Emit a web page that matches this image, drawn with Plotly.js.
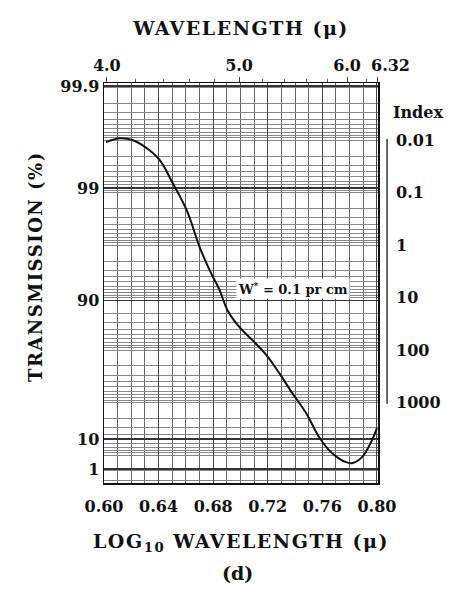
<!DOCTYPE html>
<html>
<head>
<meta charset="utf-8">
<script src="https://cdn.plot.ly/plotly-3.0.1.min.js"></script>
<style>
html,body{margin:0;padding:0;background:#fff;}
#chart{width:458px;height:590px;}
.xtitle, .x2title, .ytitle { letter-spacing: 1.5px; }
</style>
</head>
<body>
<div id="chart"></div>
<script>
// Curve: log10 wavelength vs. absorption index (right axis)
const logWavelength = [0.6015, 0.6117, 0.6212, 0.6314, 0.6409, 0.6504, 0.6606, 0.6701, 0.6774, 0.6847, 0.6905, 0.6993, 0.7088, 0.7190, 0.7285, 0.7380, 0.7482, 0.7577, 0.7672, 0.7774, 0.7818, 0.7891, 0.7964, 0.8000];
const absorptionIndex = [0.0109, 0.0092, 0.0100, 0.0142, 0.024, 0.066, 0.215, 1.09, 2.99, 7.2, 17.3, 36.5, 64.5, 124, 274, 659, 1585, 4540, 9160, 13600, 14200, 10900, 5180, 3060];

// Bottom axis ticks (log10 wavelength)
const bottomTicks = [0.60, 0.64, 0.68, 0.72, 0.76, 0.80];
const bottomLabels = ['0.60', '0.64', '0.68', '0.72', '0.76', '0.80'];

// Top axis ticks (wavelength, microns); the 6.32 label is set beside its tick
const topWavelengths = [4.0, 5.0, 6.0, 6.32];
const topLabels = ['4.0', '5.0', '6.0', ''];
const topEndLabel = '6.32';
const topMinorWavelengths = [4.2, 4.4, 4.6, 4.8, 5.2, 5.4, 5.6, 5.8, 6.2];

// Left axis: transmission labels and their position on the index scale
const transLabels = ['99.9', '99', '90', '10', '1'];
const transPositions = [0.00093, 0.082, 11.2, 4960, 18500];

// Right axis: index labels
const indexTicks = [0.01, 0.1, 1, 10, 100, 1000];
const indexLabels = ['0.01', '0.1', '1', '10', '100', '1000'];

const FONT = 'DejaVu Serif';
const yRange = [4.53, -3.09];
const xRange = [0.6, 0.8008];
const titleFont = {family: FONT, size: 19, weight: 'bold', color: '#111'};
const tickFont = {family: FONT, size: 16, weight: 'bold', color: '#111'};

const trace = {
  x: logWavelength,
  y: absorptionIndex,
  type: 'scatter',
  mode: 'lines',
  line: {color: '#111', width: 2, shape: 'spline', smoothing: 1},
  xaxis: 'x',
  yaxis: 'y',
  hoverinfo: 'skip'
};

const layout = {
  width: 458,
  height: 590,
  margin: {l: 104, r: 80, t: 83, b: 107},
  paper_bgcolor: '#fff',
  plot_bgcolor: '#fff',
  showlegend: false,
  font: {family: FONT, color: '#111', size: 15, weight: 'bold'},
  xaxis: {
    range: xRange,
    tickmode: 'array',
    tickvals: bottomTicks,
    ticktext: bottomLabels,
    tickangle: 0,
    ticks: '',
    ticklabelstandoff: 8,
    tickfont: tickFont,
    showgrid: true,
    gridcolor: '#444',
    gridwidth: 1,
    minor: {dtick: 0.01, showgrid: true, gridcolor: '#666', gridwidth: 1, ticks: ''},
    showline: true, linecolor: '#111', linewidth: 1.5, mirror: true,
    zeroline: false,
    title: {text: 'LOG<sub>10</sub> WAVELENGTH (\u03bc)', font: titleFont, standoff: 20}
  },
  xaxis2: {
    overlaying: 'x',
    side: 'top',
    range: xRange,
    tickmode: 'array',
    tickvals: topWavelengths.map(Math.log10),
    ticktext: topLabels,
    tickangle: 0,
    ticks: 'outside',
    ticklen: 5,
    tickcolor: '#444',
    tickfont: tickFont,
    minor: {tickmode: 'array', tickvals: topMinorWavelengths.map(Math.log10), ticks: 'outside', ticklen: 3, tickcolor: '#555', showgrid: false},
    showgrid: false,
    zeroline: false,
    title: {text: 'WAVELENGTH (\u03bc)', font: titleFont, standoff: 14}
  },
  yaxis: {
    type: 'log',
    range: yRange,
    tickmode: 'array',
    tickvals: transPositions,
    ticktext: transLabels,
    ticks: '',
    tickfont: tickFont,
    showgrid: true,
    gridcolor: '#333',
    gridwidth: 1.5,
    minor: {dtick: 'D1', showgrid: true, gridcolor: '#888', gridwidth: 1, ticks: ''},
    showline: true, linecolor: '#111', linewidth: 1.5, mirror: true,
    zeroline: false
  },
  yaxis2: {
    type: 'log',
    overlaying: 'y',
    side: 'right',
    range: yRange,
    tickmode: 'array',
    tickvals: indexTicks,
    ticktext: indexLabels,
    ticks: '',
    ticklabelstandoff: 17,
    tickfont: tickFont,
    showgrid: false,
    zeroline: false
  },
  shapes: [
    {type: 'line', xref: 'paper', yref: 'y2', x0: 1.033, x1: 1.033, y0: 0.0095, y1: 1050, line: {color: '#333', width: 1.5}}
  ],
  annotations: [
    {xref: 'paper', yref: 'paper', x: (35 - 104) / 274, y: (483 - 267) / 400, text: 'TRANSMISSION (%)', textangle: -90, showarrow: false, xanchor: 'center', yanchor: 'middle', font: {family: FONT, size: 18, weight: 'bold', color: '#111'}},
    {xref: 'paper', yref: 'paper', x: (390 - 104) / 274, y: (483 - 65) / 400, text: topEndLabel, showarrow: false, xanchor: 'center', yanchor: 'middle', font: tickFont},
    {xref: 'paper', yref: 'paper', x: 1.145, y: 1.0 - 30/400, text: 'Index', showarrow: false, xanchor: 'center', yanchor: 'middle', font: tickFont},
    {xref: 'paper', yref: 'paper', x: (237 - 104) / 274, y: -(573 - 483) / 400, text: '(d)', showarrow: false, xanchor: 'center', yanchor: 'middle', font: titleFont},
    {xref: 'x', yref: 'y', x: 0.7387, y: 0.82, text: 'W<sup>*</sup> = 0.1 pr cm', showarrow: false, bgcolor: '#fff', xanchor: 'center', yanchor: 'middle', font: {family: FONT, size: 13, weight: 'bold', color: '#111'}}
  ]
};

// invisible point that activates the top x axis and the right y axis
const ghost = {x: [xRange[0]], y: [1], xaxis: 'x2', yaxis: 'y2', mode: 'markers', marker: {opacity: 0}, hoverinfo: 'skip', showlegend: false};

Plotly.newPlot('chart', [trace, ghost], layout, {staticPlot: true, displayModeBar: false}).then(function () {
  // letter-space the rotated transmission title like the other titles
  const t = document.querySelector('.annotation[data-index="0"] text');
  if (t) t.style.letterSpacing = '1.5px';
});
</script>
</body>
</html>
